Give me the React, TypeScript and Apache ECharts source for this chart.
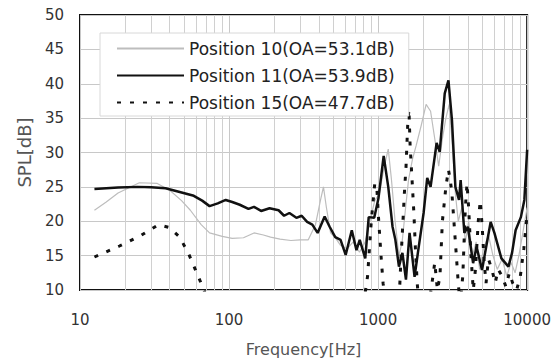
import React, { useEffect, useRef } from "react";
import * as echarts from "echarts";

// Position 10 (light gray)
const freq10 = [12.5, 15, 18, 25, 33, 40, 48, 55, 65, 74, 90, 105, 125, 147, 170, 190, 220, 260, 300, 340, 380, 410, 430, 450, 480, 520, 560, 620, 680, 750, 820, 880, 950, 1020, 1100, 1170, 1230, 1300, 1380, 1450, 1530, 1600, 1700, 1800, 1950, 2100, 2250, 2400, 2550, 2700, 2850, 3000, 3150, 3300, 3450, 3650, 3850, 4050, 4300, 4550, 4800, 5100, 5500, 5900, 6300, 6800, 7300, 7800, 8300, 8800, 9300, 10000];
const spl10 = [21.6, 22.8, 24.1, 25.6, 25.5, 24.5, 23.0, 21.6, 19.5, 18.3, 17.8, 17.5, 17.6, 18.3, 18.0, 17.7, 17.4, 17.2, 17.3, 17.3, 19.5, 23, 25, 22, 18.3, 17.5, 16.5, 16, 17, 15.5, 17, 20, 23, 24, 28, 30.5, 26, 20, 15, 17, 22, 26, 29, 31, 34, 37, 36, 32, 28, 32, 35, 37, 31, 24, 20, 22, 17, 20, 15, 17, 13, 16, 18, 15, 13, 14.5, 12, 14, 12.5, 15, 18, 22];

// Position 11 (solid black)
const freq11 = [12.5, 18, 24.3, 30, 37.5, 46, 58, 66, 74, 84, 95, 105, 118, 135, 147, 164, 187, 215, 234, 254, 283, 307, 334, 362, 393, 438, 473, 516, 560, 606, 666, 716, 753, 820, 865, 942, 1005, 1090, 1170, 1250, 1306, 1380, 1456, 1538, 1626, 1757, 1860, 2020, 2136, 2250, 2470, 2590, 2800, 2965, 3130, 3300, 3490, 3580, 3790, 4000, 4340, 4580, 4980, 5690, 6030, 6720, 7490, 7920, 8370, 9080, 9580, 10000];
const spl11 = [24.7, 24.9, 25.0, 24.95, 24.8, 24.3, 23.7, 23.0, 22.2, 22.6, 23.1, 22.8, 22.4, 21.8, 22.1, 21.5, 21.9, 21.6, 20.8, 21.2, 20.5, 20.8, 19.9, 19.5, 18.3, 20.7, 19.2, 17.7, 17.3, 15.1, 18.7, 15.8, 17.3, 14.6, 20.6, 20.5, 23.3, 29.5, 25.0, 19.2, 17.3, 13.4, 15.4, 11.5, 18.3, 11.9, 15.8, 21.2, 26.3, 25.0, 31.4, 30.1, 38.6, 40.5, 34.7, 25.0, 23.1, 26.0, 18.3, 19.2, 13.9, 16.3, 12.9, 19.9, 18.3, 14.6, 13.4, 15.4, 18.7, 20.6, 23.1, 30.4];

// Position 15 (dotted)
const freq15 = [12.5, 18.4, 25.5, 33.6, 39.6, 46.6, 53.5, 59.6, 66.4, 72, 100, 300, 780, 800, 850, 900, 950, 980, 1010, 1050, 1080, 1110, 1150, 1300, 1380, 1420, 1460, 1500, 1540, 1580, 1610, 1640, 1670, 1700, 1740, 1780, 1830, 1880, 2200, 2300, 2400, 2500, 2600, 2700, 2850, 2965, 3050, 3130, 3250, 3350, 3450, 3550, 3700, 3850, 3950, 4050, 4200, 4350, 4500, 4700, 4850, 5000, 5150, 5300, 5500, 5800, 6100, 6400, 6800, 7200, 7600, 8000, 8500, 9000, 9500, 10000];
const spl15 = [14.8, 16.4, 17.9, 19.5, 19.1, 17.7, 15.3, 12.9, 10.5, 8.5, 5, 5, 5, 8, 12, 20, 25.5, 25, 20, 14.5, 11, 9, 5, 5, 8, 14, 19, 24, 28, 34, 36.3, 31, 28, 25, 21, 16, 11, 8, 8, 11, 14, 10, 12, 20, 25, 27.5, 26, 24, 19, 15, 11, 8, 12, 22, 25.5, 22, 15, 10, 13, 20, 23, 19, 14, 11, 14.5, 13, 11, 13, 12, 10.5, 12.5, 11, 10, 12, 16, 21];

const xTickLabels = ["10", "100", "1000", "10000"];
const minorGridFreqs = [20, 30, 40, 50, 60, 70, 80, 90, 200, 300, 400, 500, 600, 700, 800, 900, 2000, 3000, 4000, 5000, 6000, 7000, 8000, 9000];
const seriesNames = ["Position 10(OA=53.1dB)", "Position 11(OA=53.9dB)", "Position 15(OA=47.7dB)"];

const zip = (xs: number[], ys: number[]) => xs.map((x, i) => [x, ys[i]]);

const FONT = "DejaVu Sans";

export default function App() {
  const ref = useRef<HTMLDivElement>(null);
  useEffect(() => {
    if (!ref.current) return;
    const chart = echarts.init(ref.current, null, { renderer: "svg" });
    chart.setOption({
      animation: false,
      backgroundColor: "#ffffff",
      textStyle: { fontFamily: FONT },
      grid: {
        left: 80,
        right: 26,
        top: 15,
        bottom: 72,
        show: true,
        borderColor: "#111",
        borderWidth: 2,
        backgroundColor: "transparent",
      },
      legend: {
        data: seriesNames,
        orient: "vertical",
        left: 100,
        top: 33,
        z: 10,
        padding: [7, 14, 5, 16],
        itemWidth: 67,
        itemHeight: 14,
        itemGap: 10,
        backgroundColor: "#ffffff",
        borderColor: "#d8d8d8",
        borderWidth: 1,
        itemStyle: { opacity: 0, borderWidth: 0 },
        textStyle: { fontFamily: FONT, fontSize: 17, color: "#222", lineHeight: 17 },
      },
      xAxis: {
        type: "log",
        logBase: 10,
        min: 10,
        max: 10000,
        name: "Frequency[Hz]",
        nameLocation: "middle",
        nameGap: 51,
        nameTextStyle: { fontFamily: FONT, fontSize: 16, color: "#555" },
        axisLine: { show: false },
        axisTick: { show: false },
        axisLabel: {
          fontFamily: FONT,
          fontSize: 15,
          color: "#333",
          margin: 22,
          formatter: (v: number) => {
            const idx = Math.round(Math.log10(v)) - 1;
            return xTickLabels[idx] ?? String(Math.round(v));
          },
        },
        splitLine: { show: true, lineStyle: { color: "#c8c8c8", width: 1 } },
      },
      yAxis: {
        type: "value",
        min: 10,
        max: 50,
        interval: 5,
        name: "SPL[dB]",
        nameLocation: "middle",
        nameGap: 47,
        nameTextStyle: { fontFamily: FONT, fontSize: 18, color: "#555" },
        axisLine: { show: false },
        axisTick: { show: false },
        axisLabel: { fontFamily: FONT, fontSize: 15, color: "#333", margin: 16 },
        splitLine: { show: true, lineStyle: { color: "#c8c8c8", width: 1 } },
      },
      series: [
        {
          name: "minor-grid",
          type: "line",
          data: [[10, 0]],
          showSymbol: false,
          silent: true,
          z: 1,
          lineStyle: { opacity: 0 },
          markLine: {
            silent: true,
            z: 1,
            symbol: ["none", "none"],
            label: { show: false },
            lineStyle: { color: "#d0d0d0", width: 1, type: "solid" },
            data: minorGridFreqs.map((f) => ({ xAxis: f })),
          },
        },
        {
          name: seriesNames[0],
          type: "line",
          data: zip(freq10, spl10),
          showSymbol: false,
          symbol: "none",
          z: 2,
          lineStyle: { color: "#bdbdbd", width: 1.2 },
          itemStyle: { color: "#bdbdbd" },
        },
        {
          name: seriesNames[1],
          type: "line",
          data: zip(freq11, spl11),
          showSymbol: false,
          symbol: "none",
          z: 4,
          lineStyle: { color: "#111", width: 2.5 },
          itemStyle: { color: "#111" },
        },
        {
          name: seriesNames[2],
          type: "line",
          data: zip(freq15, spl15),
          showSymbol: false,
          symbol: "none",
          z: 3,
          clip: true,
          lineStyle: { color: "#111", width: 3, type: [4, 9] },
          itemStyle: { color: "#111" },
        },
      ],
    });
    return () => chart.dispose();
  }, []);
  return (
    <div
      ref={ref}
      style={{ position: "fixed", left: 0, top: 0, width: 554, height: 362 }}
    />
  );
}
